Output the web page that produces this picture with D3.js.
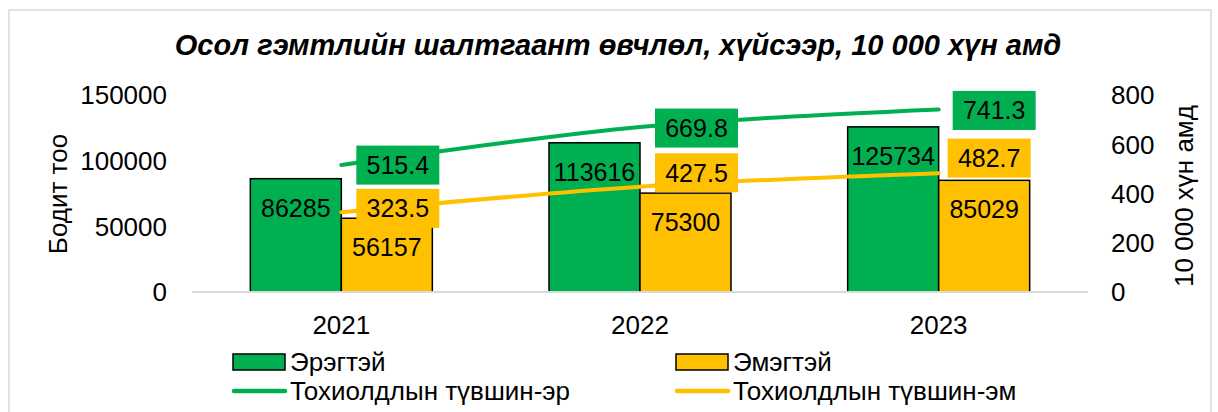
<!DOCTYPE html>
<html>
<head>
<meta charset="utf-8">
<script src="https://cdn.jsdelivr.net/npm/d3@7"></script>
<style>
  body { margin: 0; background: #fff; }
  text { font-family: "Liberation Sans", Arial, sans-serif; fill: #000; }
</style>
</head>
<body>
<div id="chart"></div>
<script>
const years = ["2021", "2022", "2023"];
const maleCount = [86285, 113616, 125734];
const femaleCount = [56157, 75300, 85029];
const maleRate = [515.4, 669.8, 741.3];
const femaleRate = [323.5, 427.5, 482.7];
const leftTicks = [0, 50000, 100000, 150000];
const rightTicks = [0, 200, 400, 600, 800];

const width = 1218;
const height = 412;
const green = "#00b050";
const orange = "#ffc000";

const svg = d3.select("#chart")
  .append("svg")
  .attr("width", width)
  .attr("height", height);

// chart frame
svg.append("rect")
  .attr("x", 9).attr("y", 10)
  .attr("width", 1202).attr("height", 430)
  .attr("fill", "#fff")
  .attr("stroke", "#d9d9d9")
  .attr("stroke-width", 1.5);

svg.append("text")
  .attr("x", 618).attr("y", 55)
  .attr("text-anchor", "middle")
  .attr("font-size", 29)
  .attr("font-weight", "bold")
  .attr("font-style", "italic")
  .text("Осол гэмтлийн шалтгаант өвчлөл, хүйсээр, 10 000 хүн амд");

const x = d3.scaleBand().domain(years).range([192, 1088]);
const barW = 91;
const yL = d3.scaleLinear().domain([0, 150000]).range([292, 95]);
const yR = d3.scaleLinear().domain([0, 800]).range([292, 95]);

// left axis
svg.append("g")
  .selectAll("text")
  .data(leftTicks)
  .join("text")
  .attr("x", 167)
  .attr("y", (d) => yL(d))
  .attr("dy", "0.36em")
  .attr("text-anchor", "end")
  .attr("font-size", 26)
  .text((d) => d);

svg.append("text")
  .attr("transform", `translate(67,194) rotate(-90)`)
  .attr("text-anchor", "middle")
  .attr("font-size", 26)
  .text("Бодит тоо");

// right axis
svg.append("g")
  .selectAll("text")
  .data(rightTicks)
  .join("text")
  .attr("x", 1111)
  .attr("y", (d) => yR(d))
  .attr("dy", "0.36em")
  .attr("font-size", 26)
  .text((d) => d);

svg.append("text")
  .attr("transform", `translate(1193,196) rotate(-90)`)
  .attr("text-anchor", "middle")
  .attr("font-size", 26)
  .text("10 000 хүн амд");

// x labels
svg.append("g")
  .selectAll("text")
  .data(years)
  .join("text")
  .attr("x", (d) => x(d) + x.bandwidth() / 2)
  .attr("y", 325)
  .attr("dy", "0.36em")
  .attr("text-anchor", "middle")
  .attr("font-size", 26)
  .text((d) => d);

// bars
const barData = [];
years.forEach((yr, i) => {
  barData.push({ yr, v: maleCount[i], off: -barW, color: green });
  barData.push({ yr, v: femaleCount[i], off: 0, color: orange });
});

svg.append("g")
  .selectAll("rect")
  .data(barData)
  .join("rect")
  .attr("x", (d) => x(d.yr) + x.bandwidth() / 2 + d.off)
  .attr("y", (d) => yL(d.v))
  .attr("width", barW)
  .attr("height", (d) => yL(0) - yL(d.v))
  .attr("fill", (d) => d.color)
  .attr("stroke", "#000")
  .attr("stroke-width", 1.5);

svg.append("g")
  .selectAll("text")
  .data(barData)
  .join("text")
  .attr("x", (d) => x(d.yr) + x.bandwidth() / 2 + d.off + barW / 2)
  .attr("y", (d) => yL(d.v) + 29)
  .attr("dy", "0.36em")
  .attr("text-anchor", "middle")
  .attr("font-size", 25)
  .text((d) => d.v);

// baseline
svg.append("line")
  .attr("x1", 192).attr("x2", 1088)
  .attr("y1", yL(0)).attr("y2", yL(0))
  .attr("stroke", "#d9d9d9")
  .attr("stroke-width", 2);

// rate lines
const cx = (i) => x(years[i]) + x.bandwidth() / 2;
const line = d3.line()
  .x((d, i) => cx(i))
  .y((d) => yR(d))
  .curve(d3.curveCatmullRom.alpha(0.5));

const rateSeries = [
  { values: maleRate, color: green, dx: [15, 15, 14], dy: [0, 1, 1] },
  { values: femaleRate, color: orange, dx: [15, 15, 9], dy: [-4, -14, -15] },
];

rateSeries.forEach((s) => {
  svg.append("path")
    .attr("d", line(s.values))
    .attr("fill", "none")
    .attr("stroke", s.color)
    .attr("stroke-width", 4)
    .attr("stroke-linecap", "round");
});

rateSeries.forEach((s) => {
  const g = svg.append("g")
    .selectAll("g")
    .data(s.values)
    .join("g")
    .attr("transform", (d, i) => `translate(${cx(i) + s.dx[i]},${yR(d) + s.dy[i]})`);
  g.append("rect")
    .attr("x", 0).attr("y", -19.5)
    .attr("width", 83).attr("height", 39)
    .attr("fill", s.color);
  g.append("text")
    .attr("x", 41.5).attr("y", 0)
    .attr("dy", "0.36em")
    .attr("text-anchor", "middle")
    .attr("font-size", 25)
    .text((d) => d3.format(".1f")(d));
});

// legend
const legend = [
  { label: "Эрэгтэй", color: green, type: "rect", x: 232, y: 362 },
  { label: "Эмэгтэй", color: orange, type: "rect", x: 675, y: 362 },
  { label: "Тохиолдлын түвшин-эр", color: green, type: "line", x: 232, y: 391 },
  { label: "Тохиолдлын түвшин-эм", color: orange, type: "line", x: 675, y: 391 },
];

const lg = svg.append("g")
  .selectAll("g")
  .data(legend)
  .join("g")
  .attr("transform", (d) => `translate(${d.x},${d.y})`);

lg.filter((d) => d.type === "rect")
  .append("rect")
  .attr("x", 1).attr("y", -8)
  .attr("width", 52).attr("height", 16)
  .attr("fill", (d) => d.color)
  .attr("stroke", "#000")
  .attr("stroke-width", 1.5);

lg.filter((d) => d.type === "line")
  .append("line")
  .attr("x1", 2).attr("x2", 53)
  .attr("y1", 0).attr("y2", 0)
  .attr("stroke", (d) => d.color)
  .attr("stroke-width", 4.5)
  .attr("stroke-linecap", "round");

lg.append("text")
  .attr("x", 58)
  .attr("y", 0)
  .attr("dy", "0.36em")
  .attr("font-size", 26)
  .text((d) => d.label);
</script>
</body>
</html>
